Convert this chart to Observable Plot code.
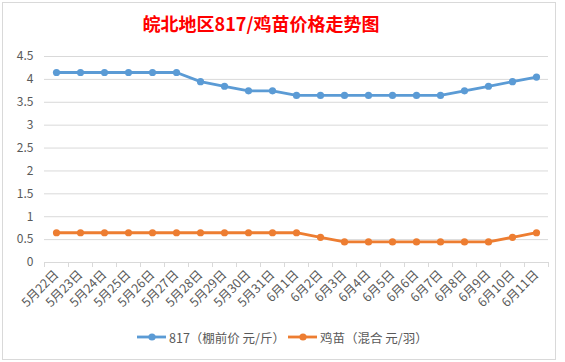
<!DOCTYPE html>
<html><head><meta charset="utf-8">
<script src="https://cdn.jsdelivr.net/npm/d3@7"></script>
<script src="https://cdn.jsdelivr.net/npm/@observablehq/plot@0.6"></script>
<style>
body{margin:0;background:#fff;}
#wrap{position:relative;width:565px;height:362px;overflow:hidden;font-family:"Noto Sans CJK SC","Noto Sans",sans-serif;background:#fff;}
#frame{position:absolute;left:2px;top:2px;width:554px;height:358px;border:1px solid #d9d9d9;box-sizing:border-box;}
#title{position:absolute;left:0;width:522px;top:9px;text-align:center;color:#ff0000;font-weight:bold;font-size:18px;line-height:28px;}
#chart{position:absolute;left:0;top:44px;}
.leg{position:absolute;top:328px;height:18px;display:flex;align-items:center;font-size:12.5px;color:#595959;white-space:nowrap;}
.leg svg{margin-right:3px;}
</style></head>
<body>
<div id="wrap">
  <div id="frame"></div>
  <div id="title"></div>
  <div id="chart"></div>
  <div id="legend"></div>
</div>
<script>
const titleText = "皖北地区817/鸡苗价格走势图";
const dates = ["5月22日","5月23日","5月24日","5月25日","5月26日","5月27日","5月28日","5月29日","5月30日","5月31日","6月1日","6月2日","6月3日","6月4日","6月5日","6月6日","6月7日","6月8日","6月9日","6月10日","6月11日"];
const price817 = [4.15,4.15,4.15,4.15,4.15,4.15,3.95,3.85,3.75,3.75,3.65,3.65,3.65,3.65,3.65,3.65,3.65,3.75,3.85,3.95,4.05];
const chickPrice = [0.65,0.65,0.65,0.65,0.65,0.65,0.65,0.65,0.65,0.65,0.65,0.55,0.45,0.45,0.45,0.45,0.45,0.45,0.45,0.55,0.65];
const seriesNames = ["817（棚前价 元/斤）","鸡苗（混合 元/羽）"];
const seriesColors = ["#5B9BD5","#ED7D31"];
const yTicks = [0,0.5,1,1.5,2,2.5,3,3.5,4,4.5];

document.getElementById("title").textContent = titleText;

const data = [];
dates.forEach((d,i)=>{
  data.push({date:d, v:price817[i], s:seriesNames[0]});
  data.push({date:d, v:chickPrice[i], s:seriesNames[1]});
});

const W = 565, ML = 44, MR = 17;
const step = (W - ML - MR) / dates.length;

const chart = Plot.plot({
  width: W, height: 270,
  marginLeft: ML, marginRight: MR, marginTop: 12, marginBottom: 52,
  style: {fontFamily: '"Noto Sans CJK SC","Noto Sans",sans-serif', background: "transparent", color: "#595959"},
  x: {type: "point", domain: dates, padding: 0.5, label: null},
  y: {domain: [0, 4.5], label: null},
  color: {domain: seriesNames, range: seriesColors},
  marks: [
    Plot.gridY(yTicks.filter(t => t > 0), {stroke: "#d9d9d9", strokeOpacity: 1, strokeWidth: 1}),
    Plot.axisY(yTicks, {tickSize: 0, tickPadding: 11, tickFormat: d => String(d), fill: "#595959", fontSize: 12}),
    Plot.ruleY([0], {stroke: "#d9d9d9", strokeWidth: 1}),
    Plot.axisX({tickSize: 5, text: null, dx: -step/2, stroke: "#d9d9d9", strokeOpacity: 1}),
    Plot.axisX([dates[dates.length-1]], {tickSize: 5, text: null, dx: step/2, stroke: "#d9d9d9", strokeOpacity: 1}),
    Plot.axisX({tickSize: 0, tickPadding: 10, tickRotate: -45, fontSize: 12.5, fill: "#595959"}),
    Plot.line(data, {x: "date", y: "v", z: "s", stroke: "s", strokeWidth: 2.8, curve: "linear"}),
    Plot.dot(data, {x: "date", y: "v", fill: "s", r: 3.6, stroke: "none"})
  ]
});
document.getElementById("chart").appendChild(chart);

const legend = document.getElementById("legend");
const legLeft = [137, 288];
seriesNames.forEach((n, i) => {
  const item = document.createElement("div");
  item.className = "leg";
  item.style.left = legLeft[i] + "px";
  item.innerHTML = `<svg width="29" height="10"><line x1="0" y1="5" x2="29" y2="5" stroke="${seriesColors[i]}" stroke-width="2.8"/><circle cx="15" cy="5" r="3.6" fill="${seriesColors[i]}"/></svg><span>${n}</span>`;
  legend.appendChild(item);
});
</script>
</body></html>
